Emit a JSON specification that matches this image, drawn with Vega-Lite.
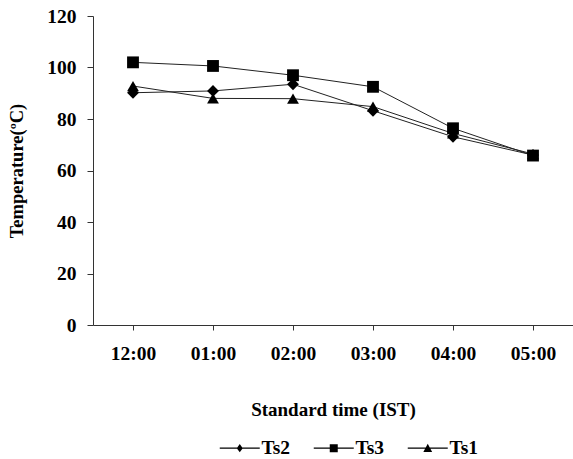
{
  "$schema": "https://vega.github.io/schema/vega-lite/v6.json",
  "width": 480,
  "height": 309,
  "autosize": "none",
  "padding": {"left": 93, "top": 16, "right": 0, "bottom": 134},
  "background": "white",
  "config": {
    "view": {"stroke": null},
    "font": "Liberation Serif",
    "axis": {"labelFont": "Liberation Serif", "titleFont": "Liberation Serif", "labelFontWeight": "bold", "titleFontWeight": "bold", "labelColor": "black", "titleColor": "black", "domainColor": "#333", "tickColor": "#333", "grid": false},
    "legend": {"labelFont": "Liberation Serif", "labelFontWeight": "bold", "labelColor": "black"}
  },
  "data": {
    "values": [
      {"time": "12:00", "series": "Ts2", "temp": 90.2},
      {"time": "01:00", "series": "Ts2", "temp": 90.9},
      {"time": "02:00", "series": "Ts2", "temp": 93.5},
      {"time": "03:00", "series": "Ts2", "temp": 83.2},
      {"time": "04:00", "series": "Ts2", "temp": 73.1},
      {"time": "05:00", "series": "Ts2", "temp": 66.0},
      {"time": "12:00", "series": "Ts3", "temp": 102.0},
      {"time": "01:00", "series": "Ts3", "temp": 100.6},
      {"time": "02:00", "series": "Ts3", "temp": 97.0},
      {"time": "03:00", "series": "Ts3", "temp": 92.5},
      {"time": "04:00", "series": "Ts3", "temp": 76.4},
      {"time": "05:00", "series": "Ts3", "temp": 65.8},
      {"time": "12:00", "series": "Ts1", "temp": 92.8},
      {"time": "01:00", "series": "Ts1", "temp": 88.0},
      {"time": "02:00", "series": "Ts1", "temp": 87.9},
      {"time": "03:00", "series": "Ts1", "temp": 84.8},
      {"time": "04:00", "series": "Ts1", "temp": 74.4},
      {"time": "05:00", "series": "Ts1", "temp": 66.4}
    ]
  },
  "encoding": {
    "x": {
      "field": "time", "type": "ordinal",
      "sort": ["12:00", "01:00", "02:00", "03:00", "04:00", "05:00"],
      "scale": {"type": "point", "padding": 0.5},
      "axis": {"title": "Standard time (IST)", "labelAngle": 0, "labelFontSize": 19.5, "titleFontSize": 19, "tickSize": 5, "labelPadding": 14, "titlePadding": 38}
    },
    "y": {
      "field": "temp", "type": "quantitative",
      "scale": {"domain": [0, 120], "nice": false},
      "axis": {"title": "Temperature(ºC)", "values": [0, 20, 40, 60, 80, 100, 120], "labelFontSize": 19.5, "titleFontSize": 18.5, "tickSize": 6, "labelPadding": 11, "titlePadding": 20}
    }
  },
  "layer": [
    {
      "mark": {"type": "line", "color": "#222", "strokeWidth": 1},
      "encoding": {"detail": {"field": "series"}}
    },
    {
      "mark": {"type": "point", "filled": true, "color": "black", "opacity": 1, "size": 140},
      "encoding": {
        "shape": {
          "field": "series", "type": "nominal",
          "scale": {"domain": ["Ts2", "Ts3", "Ts1"], "range": ["diamond", "square", "triangle-up"]},
          "legend": null
        }
      }
    },
    {
      "transform": [{"filter": "datum.temp > 1000"}],
      "mark": {"type": "point", "filled": true, "color": "black", "opacity": 1},
      "encoding": {
        "shape": {
          "field": "series", "type": "nominal",
          "scale": {"domain": ["Ts2", "Ts3", "Ts1"], "range": [
            "M-5,-0.13H5V0.13H-5ZM0,-1.05L0.75,0L0,1.05L-0.75,0Z",
            "M-5,-0.13H5V0.13H-5ZM-1,-1H1V1H-1Z",
            "M-5,-0.13H5V0.13H-5ZM0,-1.1L1.1,0.95H-1.1Z"
          ]},
          "legend": {
            "title": null, "orient": "none", "direction": "horizontal",
            "legendX": 137, "legendY": 422,
            "symbolSize": 64,
            "labelFontSize": 19.5, "labelOffset": 12, "columnPadding": 19,
            "encode": {"symbols": {"update": {"fill": {"value": "black"}, "opacity": {"value": 1}}}}
          }
        }
      }
    }
  ],
  "resolve": {"scale": {"shape": "independent"}, "legend": {"shape": "independent"}}
}
